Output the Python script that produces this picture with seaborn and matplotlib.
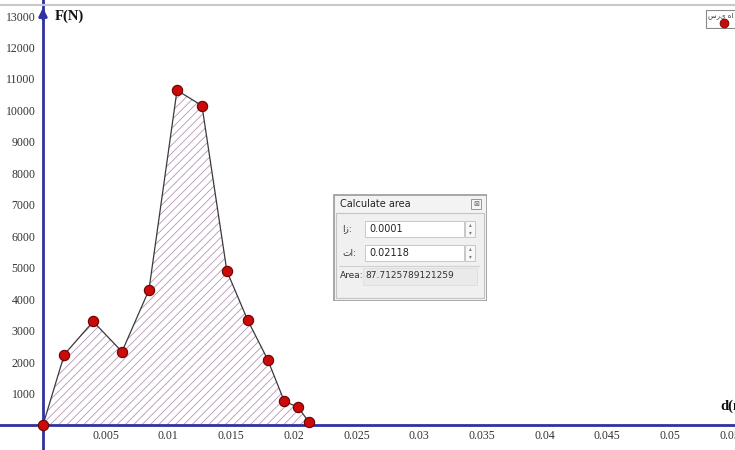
import matplotlib
matplotlib.use("Agg")
import matplotlib.pyplot as plt
import seaborn as sns
import pandas as pd
from matplotlib.patches import Rectangle

# ---- data ----
d_m = [0.0, 0.0017, 0.0040, 0.0063, 0.00845, 0.01069, 0.01268, 0.01467,
       0.01632, 0.01792, 0.01924, 0.02036, 0.02118]
force_n = [0, 2240, 3290, 2330, 4290, 10640, 10150, 4890,
           3340, 2080, 760, 560, 110]
x_ticks = [0.005, 0.01, 0.015, 0.02, 0.025, 0.03, 0.035, 0.04, 0.045, 0.05, 0.055]
x_tick_labels = ["0.005", "0.01", "0.015", "0.02", "0.025", "0.03", "0.035",
                 "0.04", "0.045", "0.05", "0.055"]
y_ticks = [1000, 2000, 3000, 4000, 5000, 6000, 7000, 8000, 9000, 10000,
           11000, 12000, 13000]
y_tick_labels = [str(v) for v in y_ticks]
area_from = "0.0001"
area_to = "0.02118"
area_value = "87.7125789121259"

df = pd.DataFrame({"d": d_m, "F": force_n})

sns.set_theme(style="white")
plt.rcParams['font.family'] = ['DejaVu Sans']
plt.rcParams['hatch.linewidth'] = 0.6

W, H = 735, 450
fig = plt.figure(figsize=(W / 100, H / 100), dpi=100)
ax = fig.add_axes([0, 0, 1, 1])
ax.set_facecolor("white")

blue = "#2f32a0"

# hatched area
ax.fill_between(df["d"], df["F"], 0, facecolor="white", edgecolor="#b696b6",
                hatch="////", linewidth=0, zorder=1)
sns.lineplot(data=df, x="d", y="F", ax=ax, color="#3a3a3a", linewidth=0.9,
             sort=False, zorder=2, legend=False)
sns.scatterplot(data=df, x="d", y="F", ax=ax, color="#cc0a0a",
                edgecolor="#6a0000", linewidth=0.8, s=55, zorder=5, legend=False)

ax.set_xlim(-0.00343, 0.0552)
ax.set_ylim(-795, 13509)

for s in ["top", "right"]:
    ax.spines[s].set_visible(False)
ax.spines["left"].set_position(("data", 0))
ax.spines["bottom"].set_position(("data", 0))
for s in ["left", "bottom"]:
    ax.spines[s].set_color(blue)
    ax.spines[s].set_linewidth(2)
    ax.spines[s].set_zorder(3)

ax.set_xticks(x_ticks)
ax.set_xticklabels(x_tick_labels)
ax.set_yticks(y_ticks)
ax.set_yticklabels(y_tick_labels)
ax.tick_params(axis="both", direction="inout", length=9, width=1.2,
               color=blue, labelcolor="#333333", labelsize=8.5)
ax.tick_params(axis="x", pad=-1)
ax.tick_params(axis="y", pad=1)
for lab in ax.get_xticklabels() + ax.get_yticklabels():
    lab.set_fontfamily("Liberation Serif")
ax.set_xlabel("")
ax.set_ylabel("")

# y-axis arrow
ax.annotate("", xy=(0, 13350), xytext=(0, 12800),
            arrowprops=dict(arrowstyle="-|>", color=blue, lw=2,
                            mutation_scale=12), zorder=4)

ax.text(0.0009, 13000, "F(N)", fontfamily="Liberation Serif",
        fontweight="bold", fontsize=10.5, color="#111111", va="center")
ax.text(0.0540, 370, "d(m)", fontfamily="Liberation Serif",
        fontweight="bold", fontsize=10.5, color="#111111", va="bottom")

# top border of the view
fig.add_artist(plt.Line2D([0, 1], [1 - 5 / H, 1 - 5 / H],
                          color="#c8c8c8", lw=1.5, transform=fig.transFigure))

# ---- legend at top right ----
lg = fig.add_axes([705 / W, 1 - 29 / H, 40 / W, 19 / H])
lg.set_xlim(0, 40); lg.set_ylim(19, 0); lg.axis("off")
lg.add_patch(Rectangle((0.5, 0.5), 38, 18, facecolor="white", edgecolor="#888888", lw=0.8))
lg.text(3, 6, "سری ها 1", fontsize=5, va="center", ha="left", color="#333333")
lg.scatter([19], [13], s=40, color="#cc0a0a", edgecolor="#6a0000", lw=0.6)

# ---- "Calculate area" dialog ----
x0, y0, w, h = 333, 194, 154, 107
dg = fig.add_axes([x0 / W, 1 - (y0 + h) / H, w / W, h / H])
dg.set_xlim(0, w); dg.set_ylim(h, 0); dg.axis("off")
dg.add_patch(Rectangle((0.5, 0.5), w - 1, h - 1, facecolor="#f3f3f3",
                       edgecolor="#9a9a9a", lw=1.2))
dg.text(7, 10, "Calculate area", fontsize=7, va="center", color="#222222")
dg.add_patch(Rectangle((138, 5), 10, 10, facecolor="#f6f6f6", edgecolor="#888888", lw=0.6))
dg.text(143, 10, "⊠", fontsize=5, ha="center", va="center", color="#666666")
dg.add_patch(Rectangle((3, 19), w - 6, h - 22, facecolor="#f0f0f0",
                       edgecolor="#c4c4c4", lw=0.8))
# row 1
dg.text(9, 35, "از:", fontsize=6.5, va="center", color="#333333")
dg.add_patch(Rectangle((32, 27), 99, 16, facecolor="white", edgecolor="#c8c8c8", lw=0.7))
dg.text(36, 35, area_from, fontsize=7, va="center", color="#222222")
dg.add_patch(Rectangle((132, 27), 10, 16, facecolor="#f8f8f8", edgecolor="#c0c0c0", lw=0.6))
dg.text(137, 31, "▴", fontsize=4, ha="center", va="center", color="#777777")
dg.text(137, 39, "▾", fontsize=4, ha="center", va="center", color="#777777")
# row 2
dg.text(9, 59, "تا:", fontsize=6.5, va="center", color="#333333")
dg.add_patch(Rectangle((32, 51), 99, 16, facecolor="white", edgecolor="#c8c8c8", lw=0.7))
dg.text(36, 59, area_to, fontsize=7, va="center", color="#222222")
dg.add_patch(Rectangle((132, 51), 10, 16, facecolor="#f8f8f8", edgecolor="#c0c0c0", lw=0.6))
dg.text(137, 55, "▴", fontsize=4, ha="center", va="center", color="#777777")
dg.text(137, 63, "▾", fontsize=4, ha="center", va="center", color="#777777")
# area row
dg.plot([6, w - 8], [72, 72], color="#d0d0d0", lw=0.8)
dg.add_patch(Rectangle((30, 74), 114, 17, facecolor="#eaeaea", edgecolor="#dddddd", lw=0.6))
dg.text(7, 82, "Area:", fontsize=6.5, va="center", color="#333333")
dg.text(32, 82, area_value, fontsize=6.5, va="center", color="#333333")

fig.savefig("out.png", dpi=100)
